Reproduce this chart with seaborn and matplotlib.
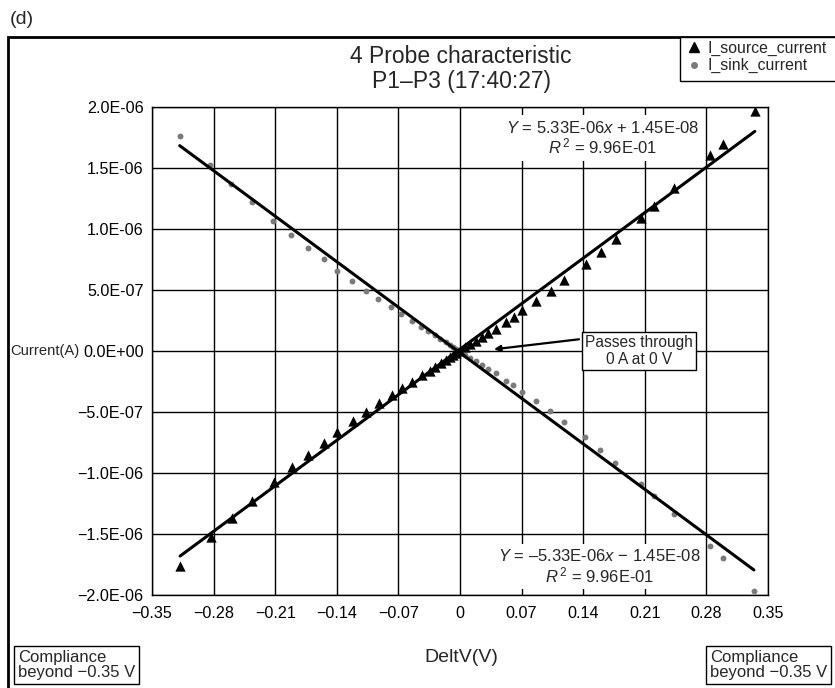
import matplotlib
matplotlib.use("Agg")
import matplotlib.pyplot as plt
from matplotlib.patches import Rectangle
from matplotlib.lines import Line2D
import seaborn as sns

# ---- measured data: 4-probe I-V sweep, P1-P3 ----
source_v = [-0.318, -0.2833, -0.2595, -0.236, -0.2117, -0.1913, -0.1724, -0.1545,
            -0.1398, -0.1216, -0.1065, -0.092, -0.0776, -0.0663, -0.0542, -0.0435,
            -0.0344, -0.0284, -0.022, -0.0163, -0.0117, -0.008, -0.004, 0.0,
            0.0057, 0.011, 0.0178, 0.0254, 0.0318, 0.0405, 0.0526, 0.0614, 0.0708,
            0.086, 0.103, 0.118, 0.143, 0.160, 0.177, 0.2053, 0.221, 0.243,
            0.2845, 0.299, 0.335]
source_i = [-1.762e-6, -1.522e-6, -1.367e-6, -1.226e-6, -1.070e-6, -0.951e-6, -0.849e-6,
            -0.755e-6, -0.661e-6, -0.576e-6, -0.499e-6, -0.425e-6, -0.360e-6, -0.304e-6,
            -0.254e-6, -0.200e-6, -0.164e-6, -0.128e-6, -0.101e-6, -0.074e-6, -0.052e-6,
            -0.035e-6, -0.019e-6, 0.0,
            0.035e-6, 0.057e-6, 0.085e-6, 0.112e-6, 0.145e-6, 0.178e-6, 0.240e-6,
            0.281e-6, 0.333e-6, 0.409e-6, 0.494e-6, 0.579e-6, 0.710e-6, 0.811e-6,
            0.921e-6, 1.093e-6, 1.185e-6, 1.336e-6, 1.603e-6, 1.700e-6, 1.970e-6]

sink_v = [-0.3185, -0.284, -0.260, -0.2367, -0.212, -0.192, -0.173, -0.155,
          -0.140, -0.1224, -0.107, -0.093, -0.078, -0.0667, -0.0549, -0.0443,
          -0.036, -0.0288, -0.0224, -0.0163, -0.0117, -0.008, -0.004, 0.0,
          0.0057, 0.011, 0.0178, 0.0254, 0.0318, 0.0405, 0.052, 0.0606, 0.070,
          0.086, 0.102, 0.118, 0.142, 0.159, 0.1765, 0.2053, 0.221, 0.243,
          0.284, 0.2985, 0.334]
sink_i = [1.760e-6, 1.522e-6, 1.369e-6, 1.221e-6, 1.068e-6, 0.948e-6, 0.847e-6,
          0.752e-6, 0.658e-6, 0.574e-6, 0.494e-6, 0.426e-6, 0.358e-6, 0.301e-6,
          0.248e-6, 0.199e-6, 0.164e-6, 0.129e-6, 0.101e-6, 0.074e-6, 0.052e-6,
          0.035e-6, 0.019e-6, 0.0,
          -0.035e-6, -0.057e-6, -0.085e-6, -0.112e-6, -0.145e-6, -0.178e-6, -0.246e-6,
          -0.281e-6, -0.333e-6, -0.407e-6, -0.494e-6, -0.579e-6, -0.708e-6, -0.811e-6,
          -0.918e-6, -1.093e-6, -1.186e-6, -1.339e-6, -1.601e-6, -1.699e-6, -1.970e-6]

# linear fits as printed on the chart
source_slope, source_icpt = 5.33e-6, 1.45e-8
sink_slope, sink_icpt = -5.33e-6, -1.45e-8

x_ticks = [-0.35, -0.28, -0.21, -0.14, -0.07, 0.0, 0.07, 0.14, 0.21, 0.28, 0.35]
x_tick_labels = ["\u22120.35", "\u22120.28", "\u22120.21", "\u22120.14", "\u22120.07", "0",
                 "0.07", "0.14", "0.21", "0.28", "0.35"]
y_ticks = [-2.0e-6, -1.5e-6, -1.0e-6, -5.0e-7, 0.0, 5.0e-7, 1.0e-6, 1.5e-6, 2.0e-6]
y_tick_labels = ["\u22122.0E-06", "\u22121.5E-06", "\u22121.0E-06", "\u22125.0E-07", "0.0E+00",
                 "5.0E-07", "1.0E-06", "1.5E-06", "2.0E-06"]

sns.set_style("white")
plt.rcParams["font.family"] = ["Liberation Sans", "DejaVu Sans"]
plt.rcParams["mathtext.fontset"] = "custom"
plt.rcParams["mathtext.rm"] = "Liberation Sans"
plt.rcParams["mathtext.it"] = "Liberation Sans:italic"

W, H = 835, 688
fig = plt.figure(figsize=(W / 100, H / 100), dpi=100)
fig.patch.set_facecolor("white")

L, R, T, B = 152, 768, 107, 595
ax = fig.add_axes([L / W, 1 - B / H, (R - L) / W, (B - T) / H])

# data points
sns.scatterplot(x=sink_v, y=sink_i, marker="o", color="#7a7a7a", s=18,
                linewidth=0, ax=ax, zorder=3, legend=False)
sns.scatterplot(x=source_v, y=source_i, marker="^", color="black", s=55,
                linewidth=0, ax=ax, zorder=3, legend=False)

# trend lines across the data range
sx = [min(source_v), max(source_v)]
sns.lineplot(x=sx, y=[source_slope * v + source_icpt for v in sx],
             color="black", lw=2.2, ax=ax, zorder=4)
kx = [min(sink_v), max(sink_v)]
sns.lineplot(x=kx, y=[sink_slope * v + sink_icpt for v in kx],
             color="black", lw=2.2, ax=ax, zorder=4)

ax.set_xlim(-0.35, 0.35)
ax.set_ylim(-2.0e-6, 2.0e-6)
ax.set_xticks(x_ticks)
ax.set_xticklabels(x_tick_labels)
ax.set_yticks(y_ticks)
ax.set_yticklabels(y_tick_labels)
ax.grid(True, color="black", lw=1.0)
ax.set_axisbelow(True)
for sp in ax.spines.values():
    sp.set_color("black")
    sp.set_linewidth(1.0)
ax.tick_params(axis="x", direction="inout", length=8, width=1, pad=4,
               labelsize=11.6, colors="black")
ax.tick_params(axis="y", direction="out", length=4, width=1, pad=2,
               labelsize=11.6, colors="black")
ax.set_xlabel("")
ax.set_ylabel("")

# fit equations
eq_bbox = dict(facecolor="white", edgecolor="none", pad=3)
ax.text(0.732, 0.9365,
        "$Y$ = 5.33E-06$x$ + 1.45E-08\n$R^{\\,2}$ = 9.96E-01",
        transform=ax.transAxes, ha="center", va="center", fontsize=12,
        linespacing=1.05, bbox=eq_bbox, zorder=5)
ax.text(0.727, 0.058,
        "$Y$ = \u20135.33E-06$x$ \u2212 1.45E-08\n$R^{\\,2}$ = 9.96E-01",
        transform=ax.transAxes, ha="center", va="center", fontsize=12,
        linespacing=1.05, bbox=eq_bbox, zorder=5)

# origin callout
ax.annotate("", xy=(0.0386, 0.014e-6), xytext=(0.1352, 0.096e-6),
            arrowprops=dict(arrowstyle="-|>", color="black", lw=1.6,
                            mutation_scale=9, shrinkA=0, shrinkB=0), zorder=6)
ax.text(0.7906, 0.5, "Passes through\n0 A at 0 V", transform=ax.transAxes,
        ha="center", va="center", fontsize=11.2, linespacing=1.15, zorder=6,
        bbox=dict(boxstyle="square,pad=0.2", facecolor="white",
                  edgecolor="black", lw=1))

# figure-level labels
fig.text(10 / W, 1 - 20 / H, "(d)", ha="left", va="center", fontsize=14)
fig.text(461 / W, 1 - 69 / H, "4 Probe characteristic\nP1\u2013P3 (17:40:27)",
         ha="center", va="center", fontsize=16.5, linespacing=1.1)
fig.text(10 / W, 1 - 351 / H, "Current(A)", ha="left", va="center", fontsize=10.6)
fig.text(461 / W, 1 - 657 / H, "DeltV(V)", ha="center", va="center", fontsize=14)

comp_bbox = dict(boxstyle="square,pad=0.25", facecolor="white",
                 edgecolor="black", lw=1)
fig.text(18 / W, 1 - 665 / H, "Compliance\nbeyond \u22120.35 V", ha="left",
         va="center", fontsize=12, linespacing=1.05, bbox=comp_bbox)
fig.text(710 / W, 1 - 665 / H, "Compliance\nbeyond \u22120.35 V", ha="left",
         va="center", fontsize=12, linespacing=1.05, bbox=comp_bbox)

# outer frame
fig.add_artist(Rectangle((8 / W, -0.1), 1.2, (H - 37) / H + 0.1,
                         transform=fig.transFigure, fill=False,
                         edgecolor="black", lw=2, zorder=0))

# legend box anchored to the frame's top-right
fig.add_artist(Rectangle((680 / W, 1 - 81 / H), 0.3, 44 / H,
                         transform=fig.transFigure, facecolor="white",
                         edgecolor="black", lw=1, zorder=1))
handles = [Line2D([], [], marker="^", color="black", ls="none", markersize=6.5),
           Line2D([], [], marker="o", color="#7a7a7a", ls="none", markersize=4)]
fig.legend(handles, ["I_source_current", "I_sink_current"], loc="upper left",
           bbox_to_anchor=(684 / W, 1 - 39 / H), frameon=False, fontsize=11.4,
           handlelength=1.0, handletextpad=0.4, labelspacing=0.15,
           borderaxespad=0, borderpad=0.1)

fig.savefig("out.png", dpi=100, facecolor="white")
